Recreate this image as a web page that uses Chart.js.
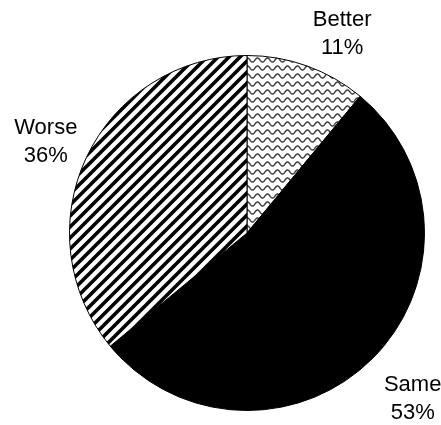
<!DOCTYPE html>
<html>
<head>
<meta charset="utf-8">
<script src="https://cdn.jsdelivr.net/npm/chart.js@4/dist/chart.umd.min.js"></script>
<style>
  html, body { margin: 0; padding: 0; background: #fff; }
  #wrap { width: 441px; height: 425px; }
</style>
</head>
<body>
<div id="wrap"><canvas id="pie" width="441" height="425"></canvas></div>
<script>
var labels = ["Better", "Same", "Worse"];
var values = [11, 53, 36];
var percentTexts = ["11%", "53%", "36%"];

// wavy pattern for "Better"
function wavePattern() {
    var w = 10, h = 8;
    var c = document.createElement("canvas");
    c.width = w; c.height = h;
    var g = c.getContext("2d");
    g.fillStyle = "#fff";
    g.fillRect(0, 0, w, h);
    g.strokeStyle = "#3a3a3a";
    g.lineWidth = 1.4;
    g.beginPath();
    for (var x = -1; x <= w + 1; x += 0.25) {
        var y = h / 2 + 2 * Math.sin(2 * Math.PI * x / w);
        if (x === -1) g.moveTo(x, y); else g.lineTo(x, y);
    }
    g.stroke();
    return g.createPattern(c, "repeat");
}

// diagonal stripes for "Worse"
function stripePattern() {
    var s = 11;
    var c = document.createElement("canvas");
    c.width = s; c.height = s;
    var g = c.getContext("2d");
    g.fillStyle = "#fff";
    g.fillRect(0, 0, s, s);
    g.strokeStyle = "#000";
    g.lineWidth = 3.6;
    g.beginPath();
    g.moveTo(-2, s + 2); g.lineTo(s + 2, -2);
    g.moveTo(-3, 3); g.lineTo(3, -3);
    g.moveTo(s - 3, s + 3); g.lineTo(s + 3, s - 3);
    g.stroke();
    return g.createPattern(c, "repeat");
}

var outsideLabels = {
    id: "outsideLabels",
    afterDatasetsDraw: function(chart, args, opts) {
        var ctx = chart.ctx;
        var meta = chart.getDatasetMeta(0);
        ctx.save();
        ctx.font = "22px 'Liberation Sans', Arial, sans-serif";
        ctx.fillStyle = "#000";
        ctx.textAlign = "center";
        ctx.textBaseline = "alphabetic";
        meta.data.forEach(function(arc, i) {
            var p = arc.getProps(["x", "y", "startAngle", "endAngle", "outerRadius"], true);
            var mid = (p.startAngle + p.endAngle) / 2;
            var w = Math.max(ctx.measureText(labels[i]).width, ctx.measureText(percentTexts[i]).width);
            var h = 44;
            var r = p.outerRadius + 21;
            var nudge = opts.nudge[i] || [0, 0];
            var cx = p.x + Math.cos(mid) * r + Math.cos(mid) * w / 2 + nudge[0];
            var cy = p.y + Math.sin(mid) * r + Math.sin(mid) * h / 2 + nudge[1];
            var top = cy - h / 2;
            ctx.fillText(labels[i], cx, top + 16);
            ctx.fillText(percentTexts[i], cx, top + 44);
        });
        ctx.restore();
    }
};

var ctx = document.getElementById("pie").getContext("2d");
var myChart = new Chart(ctx, {
    type: "pie",
    data: {
        labels: labels,
        datasets: [{
            data: values,
            backgroundColor: [wavePattern(), "#000", stripePattern()],
            borderColor: "#000",
            borderWidth: 1
        }]
    },
    options: {
        responsive: false,
        animation: false,
        layout: {
            padding: { left: 69, right: 16, top: 55, bottom: 14 }
        },
        plugins: {
            legend: { display: false },
            tooltip: { enabled: false },
            outsideLabels: { nudge: [[18, 6], [5, 8], [7, 1]] }
        }
    },
    plugins: [outsideLabels]
});
</script>
</body>
</html>
